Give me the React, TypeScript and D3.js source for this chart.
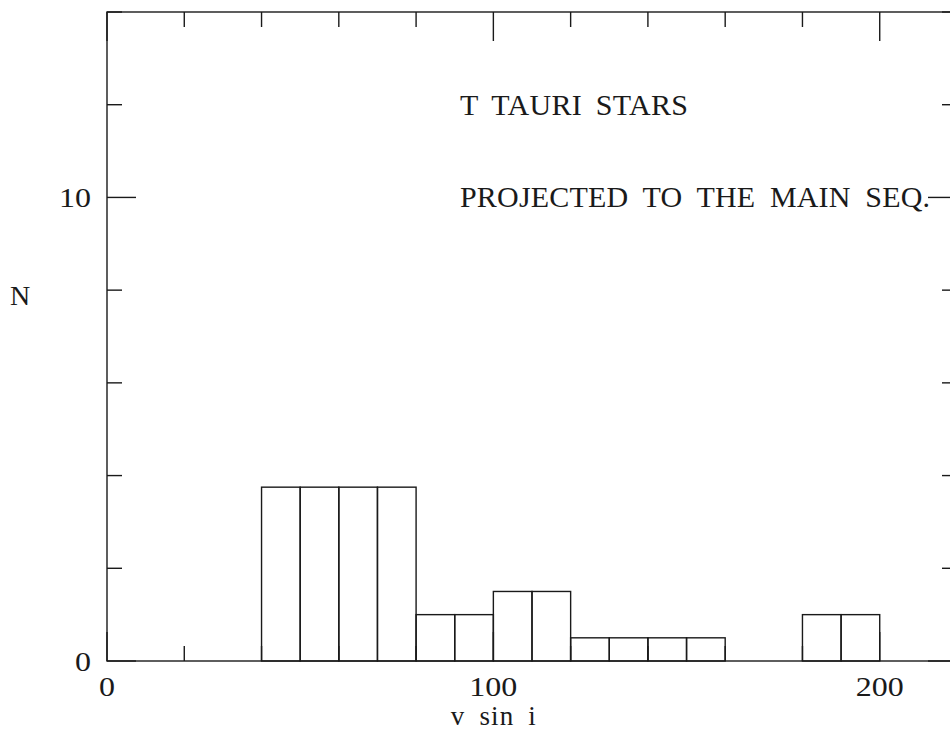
import React from "react";
import * as d3 from "d3";

// Histogram of projected v sin i for T Tauri stars (bins of 10 km/s)
const binStarts = [40, 50, 60, 70, 80, 90, 100, 110, 120, 130, 140, 150, 180, 190];
const binCounts = [3.75, 3.75, 3.75, 3.75, 1, 1, 1.5, 1.5, 0.5, 0.5, 0.5, 0.5, 1, 1];
const binWidth = 10;

const xMajorTicks = [0, 100, 200];
const xMinorTicks = [20, 40, 60, 80, 120, 140, 160, 180, 220];
const xTickLabels = ["0", "100", "200"];
const yMajorTicks = [0, 10];
const yMinorTicks = [2, 4, 6, 8, 12, 14];
const yTickLabels = ["0", "10"];

const xDomain = [0, 220];
const yDomain = [0, 14];

const titleLines = ["T TAURI STARS", "PROJECTED TO THE MAIN SEQ."];
const xTitle = "v sin i";
const yTitle = "N";

export default function App() {
  const width = 950;
  const height = 731;
  const left = 107;
  const right = 957;
  const top = 12;
  const bottom = 661;

  const x = d3.scaleLinear().domain(xDomain).range([left, right]);
  const y = d3.scaleLinear().domain(yDomain).range([bottom, top]);

  const ink = "#1a1a1a";
  const sw = 1.4;
  const minorLen = 15;
  const majorLen = 29;
  const font = "'Liberation Serif', 'DejaVu Serif', serif";
  // approximate advance per digit of the wide plotting font
  const digitW = 16;

  const xTickSet = [
    ...xMajorTicks.map((v) => ({ v, len: majorLen })),
    ...xMinorTicks.map((v) => ({ v, len: minorLen })),
  ];
  const yTickSet = [
    ...yMajorTicks.map((v) => ({ v, len: majorLen })),
    ...yMinorTicks.map((v) => ({ v, len: minorLen })),
  ];

  return (
    <svg
      width={width}
      height={height}
      style={{ position: "absolute", left: 0, top: 0, background: "#fff" }}
    >
      <rect x={0} y={0} width={width} height={height} fill="#fff" />
      {/* histogram bars */}
      <g fill="none" stroke={ink} strokeWidth={sw}>
        {binStarts.map((b, i) => (
          <rect
            key={b}
            x={x(b)}
            y={y(binCounts[i])}
            width={x(b + binWidth) - x(b)}
            height={y(0) - y(binCounts[i])}
          />
        ))}
      </g>
      {/* frame */}
      <rect
        x={left}
        y={top}
        width={right - left}
        height={bottom - top}
        fill="none"
        stroke={ink}
        strokeWidth={sw}
      />
      {/* ticks */}
      <g stroke={ink} strokeWidth={sw}>
        {xTickSet.map(({ v, len }) => (
          <g key={"x" + v}>
            <line x1={x(v)} x2={x(v)} y1={bottom} y2={bottom - len} />
            <line x1={x(v)} x2={x(v)} y1={top} y2={top + len} />
          </g>
        ))}
        {yTickSet.map(({ v, len }) => (
          <g key={"y" + v}>
            <line x1={left} x2={left + len} y1={y(v)} y2={y(v)} />
            <line x1={right} x2={right - len} y1={y(v)} y2={y(v)} />
          </g>
        ))}
      </g>
      {/* tick labels */}
      <g fill={ink} fontFamily={font} fontSize={28}>
        {xMajorTicks.map((v, i) => (
          <text
            key={"xl" + v}
            x={x(v)}
            y={696}
            textAnchor="middle"
            textLength={xTickLabels[i].length * digitW}
            lengthAdjust="spacingAndGlyphs"
          >
            {xTickLabels[i]}
          </text>
        ))}
        {yMajorTicks.map((v, i) => (
          <text
            key={"yl" + v}
            x={left - 16}
            y={y(v) + 10}
            textAnchor="end"
            textLength={yTickLabels[i].length * digitW}
            lengthAdjust="spacingAndGlyphs"
          >
            {yTickLabels[i]}
          </text>
        ))}
      </g>
      {/* axis titles */}
      <g fill={ink} fontFamily={font}>
        <text
          x={x(100)}
          y={725}
          fontSize={27}
          textAnchor="middle"
          wordSpacing={6}
          textLength={85}
          lengthAdjust="spacing"
        >
          {xTitle}
        </text>
        <text x={10} y={305} fontSize={28}>
          {yTitle}
        </text>
      </g>
      {/* annotation */}
      <g fill={ink} fontFamily={font} fontSize={30}>
        <text
          x={460}
          y={115}
          wordSpacing={6}
          textLength={228}
          lengthAdjust="spacing"
        >
          {titleLines[0]}
        </text>
        <text
          x={460}
          y={207}
          wordSpacing={7}
          textLength={470}
          lengthAdjust="spacing"
        >
          {titleLines[1]}
        </text>
      </g>
    </svg>
  );
}
